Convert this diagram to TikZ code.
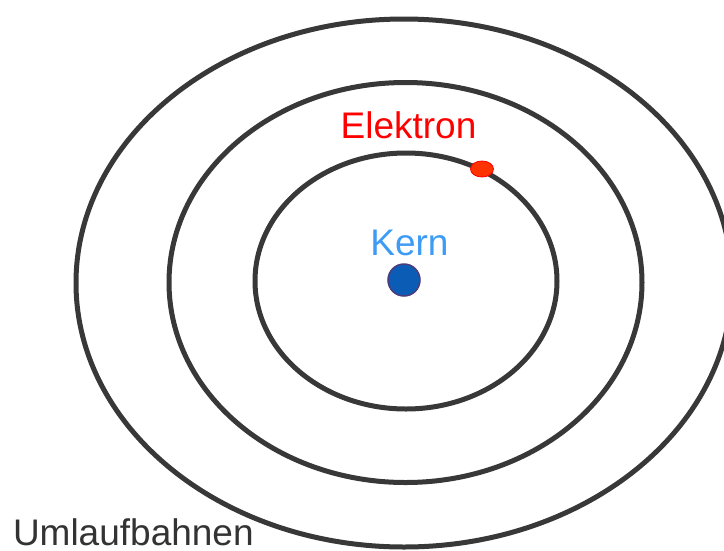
\documentclass[tikz,border=0pt]{standalone}
\usepackage{fontspec}
\setmainfont{Liberation Sans}
\usetikzlibrary{shapes.geometric}
\definecolor{orbitgrey}{HTML}{383838}
\definecolor{kernblue}{HTML}{3D9BF5}
\definecolor{kernfill}{HTML}{0B5CB5}
\definecolor{kernedge}{HTML}{4B3C7A}
\definecolor{elecfill}{HTML}{FF3300}
\definecolor{labelgrey}{HTML}{333333}
\tikzset{
  orbit/.style={ellipse, draw=orbitgrey, line width=5pt, inner sep=0pt, outer sep=0pt},
  lbl/.style={inner sep=0pt, outer sep=0pt, font=\fontsize{37}{44}\selectfont},
}
\begin{document}
\begin{tikzpicture}[x=1pt,y=-1pt]
\useasboundingbox (0,0) rectangle (724,550);
\fill[white] (0,0) rectangle (724,550);
\node[orbit, minimum width=656pt, minimum height=528pt] (outer) at (404,283) {};
\node[orbit, minimum width=473pt, minimum height=400pt] (middle) at (405.5,282.5) {};
\node[orbit, minimum width=302pt, minimum height=256pt] (inner) at (406,281) {};
\node[ellipse, fill=elecfill, draw=red, line width=0.8pt, minimum width=23pt, minimum height=16pt, inner sep=0pt] (elektron) at (482,169) {};
\node[circle, fill=kernfill, draw=kernedge, line width=1.5pt, minimum size=32pt, inner sep=0pt] (kern) at (404,280) {};
\node[lbl, text=red, anchor=base] (elabel) at (408.5,138) {Elektron};
\node[lbl, text=kernblue, anchor=base] (klabel) at (409.5,255) {Kern};
\node[lbl, text=labelgrey, anchor=base west] (ulabel) at (13,545) {Umlaufbahnen};
\end{tikzpicture}
\end{document}
